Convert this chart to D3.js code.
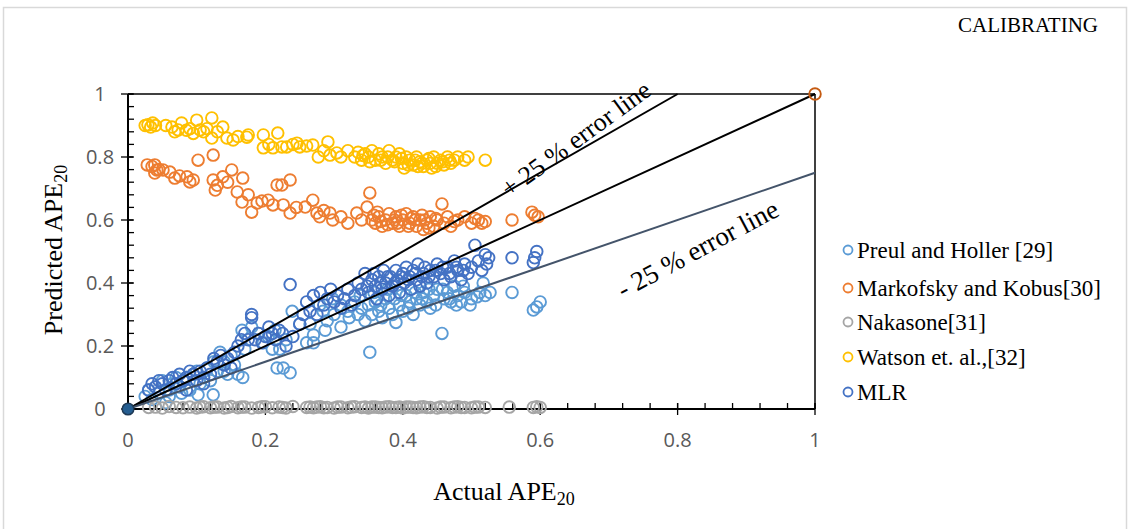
<!DOCTYPE html>
<html><head><meta charset="utf-8">
<script src="https://cdn.jsdelivr.net/npm/d3@7"></script>
<style>
html,body{margin:0;padding:0;background:#fff;}
svg{display:block;}
</style></head>
<body>
<svg id="chart" width="1130" height="529"></svg>
<script>
const xTicks = [0, 0.2, 0.4, 0.6, 0.8, 1];
const yTicks = [0, 0.2, 0.4, 0.6, 0.8, 1];
const xTickLabels = ["0", "0.2", "0.4", "0.6", "0.8", "1"];
const yTickLabels = ["0", "0.2", "0.4", "0.6", "0.8", "1"];

const seriesNames = ["Preul and Holler [29]", "Markofsky and Kobus[30]", "Nakasone[31]", "Watson et. al.,[32]", "MLR"];
const seriesColors = ["#5B9BD5", "#ED7D31", "#A5A5A5", "#FFC000", "#4472C4"];

const preulHoller = [[0.025,0.04],[0.03,0.06],[0.035,0.03],[0.04,0.07],[0.045,0.05],[0.05,0.09],[0.055,0.02],[0.06,0.06],[0.065,0.08],[0.07,0.10],[0.075,0.07],[0.08,0.09],[0.085,0.10],[0.09,0.06],[0.095,0.11],[0.10,0.12],[0.102,0.045],[0.105,0.08],[0.11,0.10],[0.115,0.13],[0.12,0.09],[0.124,0.045],[0.125,0.15],[0.13,0.12],[0.134,0.18],[0.14,0.15],[0.145,0.11],[0.15,0.17],[0.155,0.14],[0.16,0.11],[0.166,0.25],[0.167,0.10],[0.17,0.19],[0.18,0.26],[0.19,0.24],[0.197,0.21],[0.204,0.23],[0.21,0.19],[0.214,0.25],[0.217,0.13],[0.221,0.19],[0.226,0.13],[0.23,0.22],[0.236,0.115],[0.239,0.31],[0.25,0.27],[0.26,0.21],[0.265,0.27],[0.27,0.235],[0.27,0.21],[0.279,0.33],[0.284,0.31],[0.29,0.28],[0.298,0.35],[0.30,0.30],[0.31,0.33],[0.32,0.31],[0.33,0.34],[0.335,0.30],[0.34,0.32],[0.345,0.28],[0.35,0.33],[0.352,0.18],[0.355,0.30],[0.36,0.34],[0.365,0.31],[0.37,0.29],[0.375,0.35],[0.38,0.32],[0.385,0.30],[0.39,0.275],[0.395,0.33],[0.40,0.31],[0.405,0.36],[0.41,0.34],[0.415,0.30],[0.42,0.35],[0.425,0.33],[0.43,0.37],[0.435,0.34],[0.44,0.32],[0.445,0.36],[0.45,0.38],[0.457,0.24],[0.46,0.35],[0.465,0.37],[0.47,0.34],[0.475,0.39],[0.48,0.36],[0.485,0.34],[0.49,0.37],[0.498,0.33],[0.50,0.35],[0.508,0.356],[0.512,0.37],[0.517,0.40],[0.52,0.36],[0.527,0.37],[0.559,0.37],[0.59,0.314],[0.595,0.324],[0.60,0.34],[0.338,0.36],[0.358,0.37],[0.368,0.33],[0.378,0.38],[0.388,0.35],[0.398,0.36],[0.408,0.32],[0.418,0.37],[0.428,0.35],[0.438,0.38],[0.448,0.33],[0.458,0.38],[0.468,0.35],[0.478,0.33],[0.488,0.39],[0.322,0.29],[0.31,0.26],[0.287,0.25],[0.06,0.04],[0.078,0.05],[0.14,0.12]];

const markofskyKobus = [[0.028,0.775],[0.035,0.77],[0.039,0.775],[0.042,0.759],[0.039,0.749],[0.045,0.76],[0.051,0.759],[0.061,0.752],[0.068,0.733],[0.075,0.74],[0.086,0.737],[0.09,0.721],[0.095,0.727],[0.102,0.79],[0.124,0.806],[0.124,0.727],[0.127,0.695],[0.13,0.71],[0.138,0.737],[0.145,0.72],[0.151,0.759],[0.159,0.689],[0.166,0.657],[0.167,0.733],[0.175,0.68],[0.18,0.625],[0.188,0.654],[0.195,0.66],[0.204,0.663],[0.211,0.648],[0.217,0.711],[0.224,0.711],[0.226,0.648],[0.236,0.727],[0.236,0.622],[0.245,0.64],[0.258,0.641],[0.269,0.663],[0.275,0.622],[0.279,0.61],[0.285,0.63],[0.294,0.622],[0.298,0.60],[0.31,0.61],[0.32,0.59],[0.333,0.622],[0.34,0.60],[0.348,0.641],[0.352,0.686],[0.355,0.60],[0.36,0.59],[0.365,0.61],[0.37,0.58],[0.375,0.60],[0.38,0.62],[0.385,0.59],[0.39,0.61],[0.395,0.58],[0.40,0.60],[0.405,0.62],[0.41,0.59],[0.415,0.61],[0.42,0.58],[0.425,0.60],[0.43,0.57],[0.435,0.59],[0.44,0.61],[0.445,0.58],[0.45,0.60],[0.457,0.651],[0.46,0.59],[0.465,0.61],[0.47,0.58],[0.48,0.60],[0.49,0.61],[0.50,0.59],[0.51,0.60],[0.52,0.595],[0.559,0.60],[0.588,0.625],[0.592,0.615],[0.597,0.61],[0.358,0.615],[0.368,0.595],[0.378,0.585],[0.388,0.60],[0.398,0.615],[0.408,0.58],[0.418,0.60],[0.428,0.615],[0.438,0.575],[0.448,0.605],[0.363,0.625],[0.392,0.59],[0.412,0.605],[0.432,0.60],[0.475,0.595],[0.505,0.605],[0.515,0.59]];

const nakasone = [[0.03,0.005],[0.04,0.006],[0.05,0.003],[0.06,0.008],[0.07,0.005],[0.08,0.004],[0.09,0.006],[0.10,0.003],[0.105,0.006],[0.11,0.007],[0.12,0.004],[0.125,0.006],[0.13,0.006],[0.14,0.003],[0.145,0.005],[0.15,0.008],[0.16,0.004],[0.165,0.006],[0.17,0.006],[0.18,0.003],[0.19,0.005],[0.195,0.007],[0.20,0.007],[0.21,0.004],[0.22,0.006],[0.225,0.005],[0.23,0.003],[0.24,0.008],[0.26,0.005],[0.265,0.006],[0.27,0.004],[0.275,0.006],[0.28,0.007],[0.285,0.004],[0.29,0.005],[0.30,0.003],[0.305,0.006],[0.31,0.006],[0.32,0.004],[0.325,0.006],[0.33,0.007],[0.34,0.005],[0.345,0.006],[0.35,0.003],[0.355,0.006],[0.36,0.006],[0.365,0.005],[0.37,0.004],[0.375,0.006],[0.38,0.007],[0.385,0.005],[0.39,0.005],[0.395,0.006],[0.40,0.003],[0.405,0.006],[0.41,0.006],[0.415,0.005],[0.42,0.004],[0.425,0.006],[0.43,0.007],[0.435,0.005],[0.44,0.005],[0.45,0.003],[0.455,0.006],[0.46,0.006],[0.47,0.004],[0.475,0.006],[0.48,0.007],[0.485,0.005],[0.49,0.005],[0.50,0.004],[0.505,0.006],[0.51,0.006],[0.52,0.005],[0.555,0.006],[0.59,0.005],[0.595,0.007],[0.60,0.005]];

const watson = [[0.025,0.90],[0.029,0.902],[0.033,0.895],[0.036,0.908],[0.04,0.90],[0.055,0.90],[0.064,0.895],[0.068,0.88],[0.073,0.886],[0.078,0.908],[0.085,0.885],[0.09,0.89],[0.095,0.875],[0.10,0.917],[0.105,0.886],[0.11,0.88],[0.115,0.89],[0.122,0.924],[0.122,0.86],[0.13,0.88],[0.138,0.895],[0.144,0.86],[0.153,0.854],[0.16,0.865],[0.173,0.863],[0.175,0.87],[0.197,0.87],[0.197,0.829],[0.205,0.84],[0.211,0.829],[0.218,0.876],[0.224,0.832],[0.231,0.832],[0.24,0.84],[0.246,0.844],[0.25,0.832],[0.26,0.835],[0.269,0.838],[0.277,0.80],[0.285,0.82],[0.291,0.848],[0.294,0.806],[0.304,0.813],[0.31,0.80],[0.32,0.82],[0.33,0.80],[0.335,0.815],[0.34,0.79],[0.345,0.81],[0.35,0.80],[0.355,0.82],[0.36,0.79],[0.365,0.81],[0.37,0.80],[0.375,0.78],[0.38,0.82],[0.385,0.79],[0.39,0.80],[0.395,0.81],[0.40,0.78],[0.405,0.80],[0.41,0.79],[0.415,0.775],[0.42,0.80],[0.425,0.785],[0.43,0.77],[0.435,0.79],[0.44,0.78],[0.445,0.80],[0.45,0.78],[0.455,0.79],[0.46,0.775],[0.465,0.80],[0.47,0.78],[0.475,0.79],[0.48,0.80],[0.49,0.79],[0.495,0.80],[0.52,0.79],[0.388,0.785],[0.398,0.795],[0.408,0.775],[0.418,0.79],[0.428,0.78],[0.438,0.795],[0.448,0.77],[0.458,0.785],[0.468,0.79],[0.378,0.80],[0.368,0.79],[0.352,0.785],[0.342,0.805],[0.402,0.765],[0.422,0.77],[0.442,0.765]];

const mlr = [[0.03,0.06],[0.035,0.08],[0.04,0.07],[0.045,0.09],[0.05,0.08],[0.055,0.06],[0.06,0.09],[0.065,0.10],[0.07,0.08],[0.075,0.11],[0.08,0.09],[0.085,0.10],[0.09,0.12],[0.095,0.11],[0.10,0.09],[0.105,0.12],[0.11,0.10],[0.115,0.13],[0.12,0.11],[0.125,0.16],[0.13,0.15],[0.135,0.17],[0.14,0.14],[0.145,0.16],[0.15,0.13],[0.155,0.18],[0.16,0.20],[0.165,0.22],[0.17,0.24],[0.175,0.22],[0.18,0.30],[0.18,0.29],[0.185,0.22],[0.19,0.24],[0.195,0.21],[0.20,0.23],[0.205,0.26],[0.21,0.24],[0.215,0.22],[0.22,0.25],[0.225,0.24],[0.23,0.20],[0.236,0.395],[0.24,0.23],[0.26,0.34],[0.265,0.31],[0.27,0.36],[0.275,0.30],[0.28,0.37],[0.285,0.33],[0.29,0.35],[0.295,0.38],[0.30,0.34],[0.305,0.36],[0.31,0.32],[0.315,0.35],[0.33,0.36],[0.335,0.40],[0.34,0.38],[0.345,0.43],[0.35,0.37],[0.355,0.41],[0.36,0.39],[0.362,0.35],[0.365,0.42],[0.37,0.38],[0.372,0.44],[0.375,0.40],[0.38,0.36],[0.382,0.42],[0.385,0.39],[0.39,0.44],[0.392,0.41],[0.395,0.37],[0.40,0.43],[0.402,0.40],[0.405,0.45],[0.41,0.42],[0.412,0.38],[0.415,0.44],[0.42,0.41],[0.422,0.46],[0.425,0.39],[0.43,0.43],[0.432,0.45],[0.435,0.40],[0.44,0.44],[0.445,0.42],[0.45,0.46],[0.455,0.43],[0.46,0.41],[0.465,0.45],[0.47,0.42],[0.475,0.47],[0.48,0.44],[0.485,0.41],[0.49,0.46],[0.495,0.43],[0.50,0.45],[0.505,0.52],[0.51,0.47],[0.515,0.44],[0.52,0.49],[0.522,0.46],[0.525,0.48],[0.559,0.48],[0.59,0.465],[0.592,0.48],[0.595,0.50],[0.348,0.39],[0.358,0.43],[0.368,0.40],[0.378,0.42],[0.388,0.40],[0.398,0.42],[0.408,0.41],[0.418,0.43],[0.428,0.42],[0.438,0.42],[0.448,0.44],[0.458,0.45],[0.468,0.43],[0.478,0.45],[0.488,0.44],[0.325,0.33],[0.32,0.38],[0.255,0.30],[0.25,0.27],[0.11,0.08],[0.085,0.06]];

const seriesData = [preulHoller, markofskyKobus, nakasone, watson, mlr];

// reference lines: slope factors
const lineSlopes = [1, 1.25, 0.75];
const lineColors = ["#000000", "#000000", "#44546A"];
const originPoint = [0, 0];
const unityPoint = [1, 1];

const svg = d3.select("#chart");

svg.append("rect").attr("x", 3.5).attr("y", 7.5).attr("width", 1123).attr("height", 530)
  .attr("fill", "#fff").attr("stroke", "#d9d9d9").attr("stroke-width", 1.5);

svg.append("text").attr("x", 1098).attr("y", 32).attr("text-anchor", "end")
  .attr("font-family", "Liberation Serif, Times New Roman, serif").attr("font-size", 21)
  .attr("fill", "#000").text("CALIBRATING");

const x = d3.scaleLinear().domain([0, 1]).range([128, 815]);
const y = d3.scaleLinear().domain([0, 1]).range([409, 94]);

// frame top/right
svg.append("line").attr("x1", x(0)).attr("x2", x(1)).attr("y1", y(1)).attr("y2", y(1)).attr("stroke", "#000").attr("stroke-width", 1.5);
svg.append("line").attr("x1", x(1)).attr("x2", x(1)).attr("y1", y(1)).attr("y2", y(0)).attr("stroke", "#000").attr("stroke-width", 1.5);

// minor ticks
const minor = d3.range(0, 1.0001, 0.04);
const gx = svg.append("g");
gx.selectAll("line.mx").data(minor).join("line")
  .attr("x1", d => x(d)).attr("x2", d => x(d)).attr("y1", y(0)).attr("y2", y(0) - 6)
  .attr("stroke", "#000").attr("stroke-width", 1.3);
gx.selectAll("line.my").data(minor).join("line")
  .attr("y1", d => y(d)).attr("y2", d => y(d)).attr("x1", x(0)).attr("x2", x(0) + 6)
  .attr("stroke", "#000").attr("stroke-width", 1.3);
// major ticks
gx.selectAll("line.Mx").data(xTicks).join("line")
  .attr("x1", d => x(d)).attr("x2", d => x(d)).attr("y1", y(0) + 6).attr("y2", y(0) - 6)
  .attr("stroke", "#000").attr("stroke-width", 1.3);
gx.selectAll("line.My").data(yTicks).join("line")
  .attr("y1", d => y(d)).attr("y2", d => y(d)).attr("x1", x(0) - 7).attr("x2", x(0) + 5)
  .attr("stroke", "#000").attr("stroke-width", 1.3);
// axis lines
svg.append("line").attr("x1", x(0)).attr("x2", x(1)).attr("y1", y(0)).attr("y2", y(0)).attr("stroke", "#000").attr("stroke-width", 2);
svg.append("line").attr("x1", x(0)).attr("x2", x(0)).attr("y1", y(0)).attr("y2", y(1)).attr("stroke", "#000").attr("stroke-width", 2);

// tick labels
const tickFont = "Open Sans, Liberation Sans, sans-serif";
svg.selectAll("text.xt").data(xTicks).join("text")
  .attr("x", d => x(d)).attr("y", 447).attr("text-anchor", "middle")
  .attr("font-family", tickFont).attr("font-size", 20).attr("fill", "#595959")
  .text((d, i) => xTickLabels[i]);
svg.selectAll("text.yt").data(yTicks).join("text")
  .attr("x", 100).attr("y", d => y(d) + 7).attr("text-anchor", "middle")
  .attr("font-family", tickFont).attr("font-size", 20).attr("fill", "#595959")
  .text((d, i) => yTickLabels[i]);

// scatter series
seriesData.forEach((data, i) => {
  svg.append("g").selectAll("circle").data(data).join("circle")
    .attr("cx", d => x(d[0])).attr("cy", d => y(d[1])).attr("r", 5.8)
    .attr("fill", "none").attr("stroke", seriesColors[i]).attr("stroke-width", 1.9);
});

// reference lines
lineSlopes.forEach((s, i) => {
  const xEnd = Math.min(1, 1 / s);
  svg.append("line").attr("x1", x(0)).attr("y1", y(0)).attr("x2", x(xEnd)).attr("y2", y(xEnd * s))
    .attr("stroke", lineColors[i]).attr("stroke-width", 2);
});

svg.append("circle").attr("cx", x(originPoint[0])).attr("cy", y(originPoint[1])).attr("r", 5.8)
  .attr("fill", "#255E91").attr("stroke", "#1F3B57").attr("stroke-width", 1.5);
svg.append("circle").attr("cx", x(unityPoint[0])).attr("cy", y(unityPoint[1])).attr("r", 5.8)
  .attr("fill", "none").attr("stroke", "#C55A11").attr("stroke-width", 1.9);

// annotations
const serif = "Liberation Serif, Times New Roman, serif";
svg.append("text").attr("transform", "translate(581,146) rotate(-36)")
  .attr("text-anchor", "middle").attr("font-family", serif).attr("font-size", 26).text("+ 25 % error line");
svg.append("text").attr("transform", "translate(702,257) rotate(-28)")
  .attr("text-anchor", "middle").attr("font-family", serif).attr("font-size", 27).text("- 25 % error line");

// axis titles
const xt = svg.append("text").attr("x", 504).attr("y", 500).attr("text-anchor", "middle")
  .attr("font-family", serif).attr("font-size", 26).attr("fill", "#000");
xt.append("tspan").text("Actual APE");
xt.append("tspan").attr("font-size", 18).attr("dy", 5).text("20");

const yt = svg.append("text").attr("transform", "translate(62,250) rotate(-90)").attr("text-anchor", "middle")
  .attr("font-family", serif).attr("font-size", 26).attr("fill", "#000");
yt.append("tspan").text("Predicted APE");
yt.append("tspan").attr("font-size", 18).attr("dy", 5).text("20");

// legend
const legendY = [250, 288, 322, 357, 392];
seriesNames.forEach((n, i) => {
  svg.append("circle").attr("cx", 848).attr("cy", legendY[i]).attr("r", 4.5)
    .attr("fill", "none").attr("stroke", seriesColors[i]).attr("stroke-width", 1.8);
  svg.append("text").attr("x", 857).attr("y", legendY[i] + 8).attr("font-family", serif)
    .attr("font-size", 23).attr("fill", "#000").text(n);
});
</script>
</body></html>
